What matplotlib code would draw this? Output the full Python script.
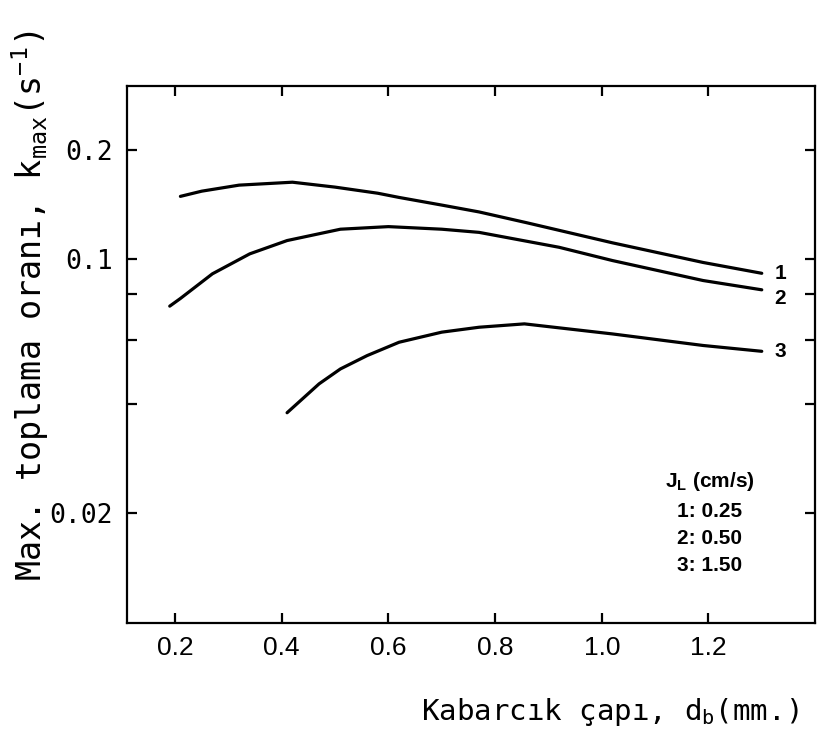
import matplotlib
matplotlib.use("Agg")
import matplotlib.pyplot as plt
from matplotlib.ticker import NullLocator

# bubble diameter (mm) and max collection rate (1/s)
d1 = [0.21, 0.25, 0.32, 0.42, 0.50, 0.58, 0.62, 0.70, 0.77, 0.86, 1.02, 1.19, 1.30]
k1 = [0.149, 0.154, 0.160, 0.163, 0.158, 0.152, 0.148, 0.141, 0.135, 0.126, 0.111, 0.098, 0.0915]

d2 = [0.19, 0.21, 0.27, 0.34, 0.41, 0.51, 0.60, 0.70, 0.77, 0.92, 1.02, 1.19, 1.30]
k2 = [0.0743, 0.078, 0.0912, 0.1035, 0.1126, 0.121, 0.123, 0.121, 0.1186, 0.1079, 0.0992, 0.0874, 0.0824]

d3 = [0.41, 0.47, 0.51, 0.56, 0.62, 0.70, 0.77, 0.855, 1.02, 1.19, 1.30]
k3 = [0.0378, 0.0454, 0.0499, 0.0543, 0.0591, 0.0630, 0.0650, 0.0664, 0.0623, 0.0579, 0.0558]

curve_ids = ["1", "2", "3"]
legend_lines = ["1: 0.25", "2: 0.50", "3: 1.50"]

x_ticks = [0.2, 0.4, 0.6, 0.8, 1.0, 1.2]
x_ticklabels = ["0.2", "0.4", "0.6", "0.8", "1.0", "1.2"]
y_ticks = [0.02, 0.04, 0.06, 0.08, 0.1, 0.2]
y_ticklabels = ["0.02", "", "", "", "0.1", "0.2"]

narrow = ["Liberation Sans Narrow", "Liberation Sans", "DejaVu Sans"]
mono = ["DejaVu Sans Mono"]

fig = plt.figure(figsize=(8.36, 7.38), dpi=100)
ax = fig.add_axes([0.152, 0.1565, 0.823, 0.727])

for d, k in [(d1, k1), (d2, k2), (d3, k3)]:
    ax.plot(d, k, color="black", lw=2.3, solid_capstyle="round")

ax.set_yscale("log")
ax.set_xlim(0.11, 1.40)
ax.set_ylim(0.01, 0.3)
ax.yaxis.set_minor_locator(NullLocator())
ax.set_yticks(y_ticks)
ax.set_yticklabels(y_ticklabels, family=mono, fontsize=19)
ax.set_xticks(x_ticks)
ax.set_xticklabels(x_ticklabels, family=narrow, fontsize=19)
ax.tick_params(direction="in", length=7, width=1.6, top=True, right=True, pad=10)
for s in ax.spines.values():
    s.set_linewidth(1.6)

# curve number labels, nudged vertically as in the original
label_dy = [0, -6, 0]
for cid, d, k, dy in zip(curve_ids, [d1, d2, d3], [k1, k2, k3], label_dy):
    ax.annotate(cid, (d[-1], k[-1]), xytext=(9, dy), textcoords="offset points",
                va="center", ha="left", fontsize=15, fontweight="bold", family=narrow)

ax.text(0.782, 0.262, "J$_\\mathregular{L}$ (cm/s)", transform=ax.transAxes,
        fontsize=15, fontweight="bold", family=narrow, ha="left", va="center")
for i, line in enumerate(legend_lines):
    ax.text(0.80, 0.206 - i * 0.05, line, transform=ax.transAxes,
            fontsize=15, fontweight="bold", family=narrow, ha="left", va="center")

fig.text(0.73, 0.035, "Kabarcık çapı, d$_\\mathregular{b}$(mm.)", family=mono,
         fontsize=21, ha="center", va="center")
fig.text(0.036, 0.585, "Max. toplama oranı, k$_\\mathregular{max}$(s$^\\mathregular{-1}$)",
         family=mono, fontsize=24, rotation=90, ha="center", va="center")

fig.savefig("out.png", dpi=100)
